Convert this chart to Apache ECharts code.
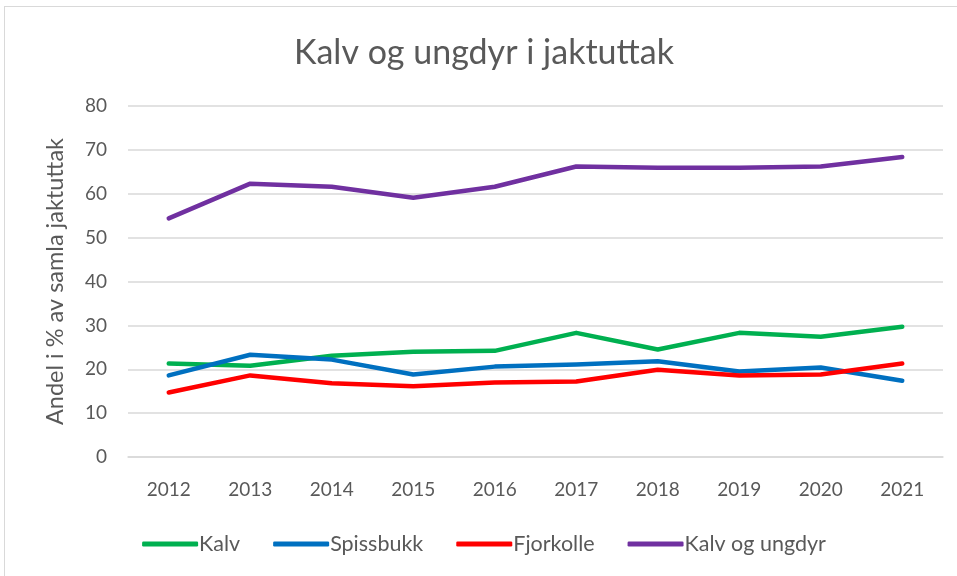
<!DOCTYPE html>
<html>
<head>
<meta charset="utf-8">
<script src="https://cdn.jsdelivr.net/npm/echarts@6/dist/echarts.min.js"></script>
<style>
  html, body { margin: 0; padding: 0; background: #fff; }
  #chart { position: absolute; left: 4px; top: 6px; width: 960px; height: 580px; border: 1px solid #d9d9d9; box-sizing: border-box; }
</style>
</head>
<body>
<div id="chart"></div>
<script>
const years = ['2012', '2013', '2014', '2015', '2016', '2017', '2018', '2019', '2020', '2021']
const kalv = [21.3, 20.8, 23.1, 24.0, 24.2, 28.3, 24.5, 28.3, 27.4, 29.7]
const spissbukk = [18.6, 23.3, 22.2, 18.8, 20.6, 21.1, 21.8, 19.5, 20.4, 17.4]
const fjorkolle = [14.7, 18.6, 16.8, 16.1, 17.0, 17.2, 19.9, 18.6, 18.8, 21.3]
const kalvUngdyr = [54.4, 62.3, 61.6, 59.1, 61.6, 66.2, 65.9, 65.9, 66.2, 68.4]

const font = 'Lato, "Open Sans", sans-serif'
const textColor = '#595959'

const chart = echarts.init(document.getElementById('chart'))

const mk = (name, data, color) => ({
  name: name,
  type: 'line',
  data: data,
  showSymbol: false,
  symbol: 'none',
  lineStyle: { width: 4.5, color: color, cap: 'round', join: 'round' },
  itemStyle: { color: color }
})

chart.setOption({
  animation: false,
  title: {
    text: 'Kalv og ungdyr i jaktuttak',
    left: 'center',
    top: 24,
    textStyle: { fontFamily: font, fontSize: 34, fontWeight: 'normal', color: textColor }
  },
  legend: {
    top: 521,
    left: 'center',
    itemWidth: 56,
    itemHeight: 5,
    itemGap: 33,
    icon: 'roundRect',
    textStyle: { fontFamily: font, fontSize: 21.5, color: textColor, padding: [0, 0, 0, -4] },
    data: ['Kalv', 'Spissbukk', 'Fjorkolle', 'Kalv og ungdyr']
  },
  grid: { left: 123, right: 20, top: 99, bottom: 128 },
  xAxis: {
    type: 'category',
    data: years,
    boundaryGap: true,
    axisTick: { show: false },
    axisLine: { show: true, lineStyle: { color: '#d9d9d9', width: 1.5 } },
    axisLabel: { fontFamily: font, fontSize: 19, color: textColor, margin: 23 }
  },
  yAxis: {
    type: 'value',
    min: 0,
    max: 80,
    interval: 10,
    name: 'Andel i % av samla jaktuttak',
    nameLocation: 'middle',
    nameGap: 61,
    nameTextStyle: { fontFamily: font, fontSize: 23.5, color: textColor },
    axisLine: { show: false },
    axisTick: { show: false },
    axisLabel: { fontFamily: font, fontSize: 19, color: textColor, margin: 21 },
    splitLine: { lineStyle: { color: '#d9d9d9', width: 1.5 } }
  },
  series: [
    mk('Kalv', kalv, '#00B050'),
    mk('Spissbukk', spissbukk, '#0070C0'),
    mk('Fjorkolle', fjorkolle, '#FF0000'),
    mk('Kalv og ungdyr', kalvUngdyr, '#7030A0')
  ]
})
</script>
</body>
</html>
